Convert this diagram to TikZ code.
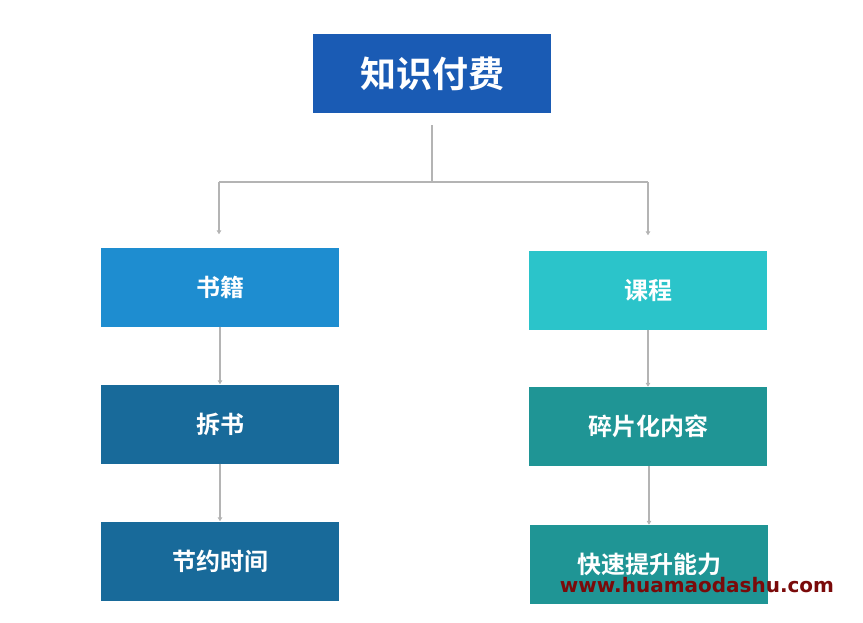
\documentclass[tikz,border=0pt]{standalone}
\usepackage{fontspec}
\setmainfont{Noto Sans CJK SC}[BoldFont=* Bold]
\newfontfamily\markfont{DejaVu Sans}
\usetikzlibrary{arrows.meta}
\definecolor{titleblue}{HTML}{1A5BB4}
\definecolor{bookblue}{HTML}{1E8DD0}
\definecolor{darkblue}{HTML}{186A9A}
\definecolor{lightteal}{HTML}{2BC4CA}
\definecolor{darkteal}{HTML}{1F9595}
\definecolor{linegrey}{HTML}{B4B4B4}
\definecolor{markred}{HTML}{7A0A0A}
\newcommand{\drawtitle}{\node[fill=titleblue,text=white,font=\fontsize{36}{42}\selectfont\bfseries,minimum width=238pt,minimum height=79pt,inner sep=0]}
\newcommand{\drawbox}[1]{\node[fill=#1,text=white,font=\fontsize{24}{28}\selectfont\bfseries,minimum width=238pt,minimum height=79pt,inner sep=0]}
\newcommand{\drawdummy}{\node[minimum size=0,inner sep=0]}
\tikzset{link/.style={draw=linegrey,line width=1.8pt,-{Triangle[length=4pt,width=4.5pt]}}}

\begin{document}
\begin{tikzpicture}[x=1pt,y=-1pt]
\useasboundingbox (0,0) rectangle (863,622);
%top of the tree
\drawtitle (fee) at (432,73.5) {知识付费};
\drawdummy (stem) at (432,125) {};
\drawdummy (fork) at (432,182) {};
\drawdummy (lfork) at (219,182) {};
\drawdummy (rfork) at (648,182) {};
%left column
\drawbox{bookblue} (book) at (220,287) {书籍};
\drawbox{darkblue} (split) at (220,424) {拆书};
\drawbox{darkblue} (save) at (220,561) {节约时间};
%right column
\drawbox{lightteal} (course) at (648,290) {课程};
\drawbox{darkteal} (frag) at (648,426.5) {碎片化内容};
\drawbox{darkteal} (skill) at (649,564.5) {快速提升能力};

\draw[draw=linegrey,line width=1.8pt] (stem) -- (fork);
\draw[draw=linegrey,line width=1.8pt] (lfork) -- (rfork);
\draw[link, shorten >=13pt] (lfork) -- (lfork |- book.north);
\draw[link, shorten >=15pt] (rfork) -- (rfork |- course.north);
\draw[link] (book) -- (split);
\draw[link] (split) -- (save);
\draw[link] (course) -- (frag);
\draw[link] (frag.south -| skill) -- (skill);

%watermark
\node[text=markred,font=\markfont\fontsize{20}{24}\selectfont\bfseries] (mark) at (697,585) {www.huamaodashu.com};
\end{tikzpicture}
\end{document}
